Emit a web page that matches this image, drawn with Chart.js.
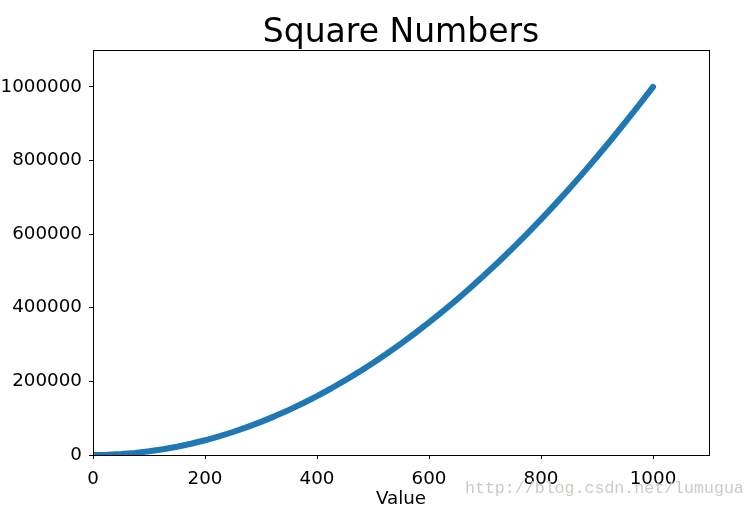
<!DOCTYPE html>
<html>
<head>
<meta charset="utf-8">
<script src="https://cdn.jsdelivr.net/npm/chart.js@4/dist/chart.umd.min.js"></script>
<style>
  html, body { margin: 0; padding: 0; background: #ffffff; }
  #wrap { width: 756px; height: 507px; }
</style>
</head>
<body>
<div id="wrap"><canvas id="c" width="756" height="507"></canvas></div>
<script>
// Data (values are squares of the inputs)
const inputValues = [1, 25, 50, 75, 100, 125, 150, 175, 200, 225, 250, 275, 300, 325, 350, 375, 400, 425, 450, 475, 500,
  525, 550, 575, 600, 625, 650, 675, 700, 725, 750, 775, 800, 825, 850, 875, 900, 925, 950, 975, 1000];
const squareValues = [1, 625, 2500, 5625, 10000, 15625, 22500, 30625, 40000, 50625, 62500, 75625, 90000, 105625, 122500,
  140625, 160000, 180625, 202500, 225625, 250000, 275625, 302500, 330625, 360000, 390625, 422500, 455625, 490000,
  525625, 562500, 600625, 640000, 680625, 722500, 765625, 810000, 855625, 902500, 950625, 1000000];
const xTickLabels = [0, 200, 400, 600, 800, 1000];
const yTickLabels = [0, 200000, 400000, 600000, 800000, 1000000];
const chartTitle = "Square Numbers";
const xAxisTitle = "Value";
const watermark = "http://blog.csdn.net/lumugua";

const points = inputValues.map((v, i) => ({ x: v, y: squareValues[i] }));

const framePlugin = {
  id: 'frame',
  afterDatasetsDraw(chart) {
    const { ctx, chartArea: a } = chart;
    ctx.save();
    ctx.strokeStyle = '#000000';
    ctx.lineWidth = 1;
    ctx.strokeRect(Math.round(a.left) + 0.5, Math.round(a.top) + 0.5,
      Math.round(a.right - a.left), Math.round(a.bottom - a.top));
    ctx.restore();
  },
  afterDraw(chart) {
    const { ctx, chartArea: a } = chart;
    ctx.save();
    // title centred over the plot area
    ctx.font = '33px "DejaVu Sans", sans-serif';
    ctx.fillStyle = '#000000';
    ctx.textAlign = 'center';
    ctx.textBaseline = 'alphabetic';
    ctx.fillText(chartTitle, (a.left + a.right) / 2, 42);
    // watermark
    ctx.font = '16.6px "Liberation Mono", monospace';
    ctx.fillStyle = '#cbcbc6';
    ctx.textAlign = 'left';
    ctx.fillText(watermark, 465, 493);
    ctx.restore();
  }
};

const font = { family: '"DejaVu Sans", sans-serif', size: 18.3 };

new Chart(document.getElementById('c'), {
  type: 'scatter',
  data: {
    datasets: [{
      data: points,
      showLine: true,
      borderColor: '#1f77b4',
      backgroundColor: '#1f77b4',
      borderWidth: 6,
      borderCapStyle: 'round',
      borderJoinStyle: 'round',
      pointRadius: 0,
      tension: 0,
      clip: 0
    }]
  },
  options: {
    responsive: false,
    animation: false,
    devicePixelRatio: 1,
    layout: { padding: { left: 0, right: 47, top: 50, bottom: 0 } },
    plugins: {
      legend: { display: false },
      tooltip: { enabled: false },
      title: { display: false }
    },
    scales: {
      x: {
        type: 'linear',
        min: 0,
        max: 1100,
        afterBuildTicks(scale) { scale.ticks = xTickLabels.map(v => ({ value: v })); },
        afterFit(scale) { scale.height = 52; },
        ticks: { color: '#000000', font: font, padding: 9, maxRotation: 0, includeBounds: false, callback: v => String(v) },
        grid: { display: true, drawOnChartArea: false, tickLength: 4, color: '#000000', tickColor: '#000000' },
        border: { display: true, color: '#000000', width: 1 },
        title: { display: true, text: xAxisTitle, color: '#000000',
          font: { family: '"DejaVu Sans", sans-serif', size: 18.3, lineHeight: 1.1 },
          padding: { top: 0, bottom: -2 } }
      },
      y: {
        type: 'linear',
        min: 0,
        max: 1100000,
        afterBuildTicks(scale) { scale.ticks = yTickLabels.map(v => ({ value: v })); },
        afterFit(scale) { scale.width = 93; },
        ticks: { color: '#000000', font: font, padding: 7, includeBounds: false, callback: v => String(v) },
        grid: { display: true, drawOnChartArea: false, tickLength: 4, color: '#000000', tickColor: '#000000' },
        border: { display: true, color: '#000000', width: 1 }
      }
    }
  },
  plugins: [framePlugin]
});
</script>
</body>
</html>
